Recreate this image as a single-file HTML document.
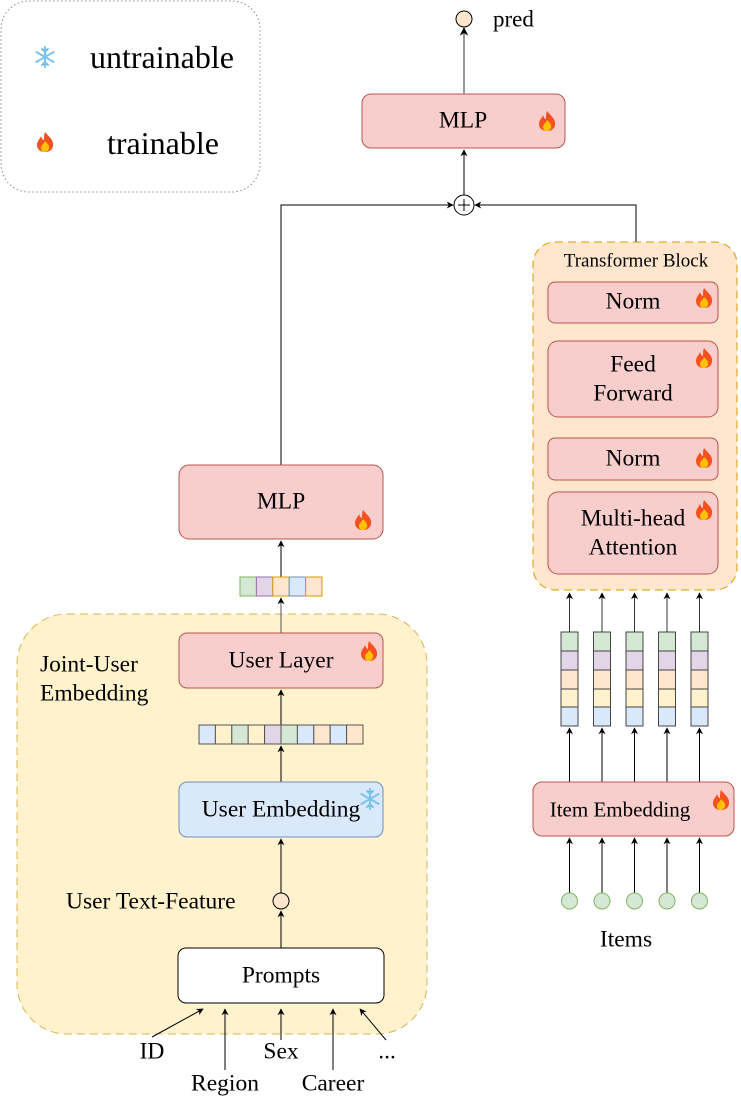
<!DOCTYPE html>
<html><head><meta charset="utf-8"><style>
html,body{margin:0;padding:0;background:#fff}
.w{position:relative;width:741px;height:1100px;overflow:hidden}
svg{position:absolute;left:0;top:0}
.t{position:absolute;font-family:"Liberation Serif","Times New Roman",serif;font-size:23.5px;color:#000;line-height:1;white-space:nowrap;transform:translate(-50%,-50%)}
.l{transform:translate(0,-50%)}
</style></head><body><div class="w">
<svg width="741" height="1100" viewBox="0 0 741 1100" xmlns="http://www.w3.org/2000/svg">
<defs>
<marker id="a" viewBox="0 0 10 10" refX="9" refY="5" markerWidth="7" markerHeight="7" orient="auto"><path d="M0,0 L10,5 L0,10 L3,5 z" fill="#000"/></marker>
<g id="fire"><path d="M0,-10 C4,-5 9,-2 8,4 C7,9 3,10 0,10 C-4,10 -8,8 -8,3 C-8,-1 -5,-3 -4,-6 C-3,-3 -2,-2 -1,-2 C-1,-5 -1,-8 0,-10 z" fill="#f4511e"/><path d="M0,-1 C3,2 5,4 4,7 C3,9 1,10 0,10 C-2,10 -4,9 -4,6 C-4,3 -1,2 0,-1 z" fill="#ffc107"/></g>
<g id="snow" stroke="#7cc4ef" stroke-width="2" stroke-linecap="round"><path d="M0,-10 V10 M-8.7,-5 L8.7,5 M-8.7,5 L8.7,-5 M-3,-8 L0,-5 L3,-8 M-3,8 L0,5 L3,8"/></g>
</defs>
<rect x="1" y="1" width="259" height="191" rx="28" fill="#fff" stroke="#888" stroke-dasharray="1.5,2.5"/>
<use href="#snow" x="45" y="57"/>
<use href="#fire" x="45" y="142"/>
<circle cx="464" cy="19" r="8" fill="#ffe6cc" stroke="#000"/>
<line x1="464" y1="94" x2="464" y2="28" stroke="#555" stroke-width="1.2" marker-end="url(#a)"/>
<rect x="362" y="94" width="203" height="54" rx="9" fill="#f8cecc" stroke="#b85450"/>
<use href="#fire" x="547" y="121"/>
<line x1="464" y1="195" x2="464" y2="150" stroke="#000" marker-end="url(#a)"/>
<circle cx="464" cy="205" r="10" fill="#fff" stroke="#000"/>
<path d="M458,205 H470 M464,199 V211" stroke="#000"/>
<polyline points="281,465 281,205 453,205" fill="none" stroke="#000" marker-end="url(#a)"/>
<polyline points="636,243 636,205 475,205" fill="none" stroke="#000" marker-end="url(#a)"/>
<rect x="533" y="242" width="204" height="348" rx="22" fill="#ffe6cc" stroke="#d79b00" stroke-dasharray="8,5"/>
<rect x="548" y="282" width="170" height="41" rx="7" fill="#f8cecc" stroke="#b85450"/>
<use href="#fire" x="704" y="298"/>
<rect x="548" y="341" width="170" height="76" rx="10" fill="#f8cecc" stroke="#b85450"/>
<use href="#fire" x="704" y="358"/>
<rect x="548" y="438" width="170" height="42" rx="7" fill="#f8cecc" stroke="#b85450"/>
<use href="#fire" x="704" y="458"/>
<rect x="548" y="492" width="170" height="82" rx="10" fill="#f8cecc" stroke="#b85450"/>
<use href="#fire" x="704" y="510"/>
<g id="bar">
<rect x="561" y="632" width="17" height="19" fill="#d5e8d4" stroke="#444"/>
<rect x="561" y="651" width="17" height="19" fill="#e1d5e7" stroke="#444"/>
<rect x="561" y="670" width="17" height="19" fill="#ffe6cc" stroke="#444"/>
<rect x="561" y="689" width="17" height="18" fill="#fff2cc" stroke="#444"/>
<rect x="561" y="707" width="17" height="19" fill="#dae8fc" stroke="#444"/>
<line x1="569.5" y1="632" x2="569.5" y2="593" stroke="#333" marker-end="url(#a)"/>
<line x1="569.5" y1="782" x2="569.5" y2="728" stroke="#000" marker-end="url(#a)"/>
<line x1="569.5" y1="893" x2="569.5" y2="838" stroke="#000" marker-end="url(#a)"/>
<circle cx="569.5" cy="901" r="8" fill="#d5e8d4" stroke="#82b366"/>
</g>
<use href="#bar" x="32.5"/><use href="#bar" x="65"/><use href="#bar" x="97.5"/><use href="#bar" x="130"/>
<rect x="533" y="782" width="201" height="54" rx="9" fill="#f8cecc" stroke="#b85450"/>
<use href="#fire" x="721" y="800"/>
<rect x="179" y="465" width="204" height="74" rx="10" fill="#f8cecc" stroke="#b85450"/>
<use href="#fire" x="363" y="520"/>
<line x1="281" y1="577" x2="281" y2="541" stroke="#000" marker-end="url(#a)"/>
<rect x="240" y="577" width="16.4" height="19" fill="#d5e8d4" stroke="#82b366"/>
<rect x="256.4" y="577" width="16.4" height="19" fill="#e1d5e7" stroke="#9673a6"/>
<rect x="272.8" y="577" width="16.4" height="19" fill="#ffe6cc" stroke="#d79b00"/>
<rect x="289.2" y="577" width="16.4" height="19" fill="#dae8fc" stroke="#6c8ebf"/>
<rect x="305.6" y="577" width="16.4" height="19" fill="#ffe6cc" stroke="#d79b00"/>
<rect x="17" y="614" width="410" height="420" rx="50" fill="#fff2cc" stroke="#d6b656" stroke-dasharray="8,5"/>
<line x1="281" y1="633" x2="281" y2="598" stroke="#555" marker-end="url(#a)"/>
<rect x="179" y="633" width="204" height="55" rx="8" fill="#f8cecc" stroke="#b85450"/>
<use href="#fire" x="369" y="651"/>
<line x1="281" y1="725" x2="281" y2="690" stroke="#000" marker-end="url(#a)"/>
<g stroke="#555">
<rect x="199" y="725" width="16.4" height="19" fill="#dae8fc"/>
<rect x="215.4" y="725" width="16.4" height="19" fill="#fff2cc"/>
<rect x="231.8" y="725" width="16.4" height="19" fill="#d5e8d4"/>
<rect x="248.2" y="725" width="16.4" height="19" fill="#fff2cc"/>
<rect x="264.6" y="725" width="16.4" height="19" fill="#e1d5e7"/>
<rect x="281" y="725" width="16.4" height="19" fill="#d5e8d4"/>
<rect x="297.4" y="725" width="16.4" height="19" fill="#dae8fc"/>
<rect x="313.8" y="725" width="16.4" height="19" fill="#ffe6cc"/>
<rect x="330.2" y="725" width="16.4" height="19" fill="#dae8fc"/>
<rect x="346.6" y="725" width="16.4" height="19" fill="#ffe6cc"/>
</g>
<line x1="281" y1="782" x2="281" y2="746" stroke="#000" marker-end="url(#a)"/>
<rect x="179" y="782" width="204" height="55" rx="8" fill="#dae8fc" stroke="#6c8ebf"/>
<use href="#snow" x="370" y="799"/>
<line x1="281" y1="893" x2="281" y2="839" stroke="#000" marker-end="url(#a)"/>
<circle cx="281" cy="901" r="8" fill="#ffe6cc" stroke="#000"/>
<line x1="281" y1="948" x2="281" y2="911" stroke="#000" marker-end="url(#a)"/>
<rect x="178" y="948" width="206" height="55" rx="8" fill="#fff" stroke="#000"/>
<g stroke="#000" marker-end="url(#a)">
<line x1="152" y1="1037" x2="203" y2="1009"/>
<line x1="225" y1="1070" x2="225" y2="1009"/>
<line x1="281" y1="1040" x2="281" y2="1009"/>
<line x1="333" y1="1070" x2="333" y2="1009"/>
<line x1="386" y1="1040" x2="360" y2="1009"/>
</g>
</svg>
<div class="t l" style="left:90px;top:57px;font-size:32px">untrainable</div>
<div class="t l" style="left:107px;top:143px;font-size:32px">trainable</div>
<div class="t l" style="left:493px;top:19px;font-size:23px">pred</div>
<div class="t" style="left:463px;top:121px">MLP</div>
<div class="t" style="left:636px;top:261px;font-size:19px">Transformer Block</div>
<div class="t" style="left:633px;top:302px">Norm</div>
<div class="t" style="left:633px;top:365px">Feed</div>
<div class="t" style="left:633px;top:394px">Forward</div>
<div class="t" style="left:633px;top:459px">Norm</div>
<div class="t" style="left:633px;top:519px">Multi-head</div>
<div class="t" style="left:633px;top:548px">Attention</div>
<div class="t" style="left:620px;top:810px;font-size:21px">Item Embedding</div>
<div class="t" style="left:626px;top:940px">Items</div>
<div class="t" style="left:281px;top:502px">MLP</div>
<div class="t" style="left:281px;top:661px">User Layer</div>
<div class="t l" style="left:40px;top:665px">Joint-User</div>
<div class="t l" style="left:40px;top:694px">Embedding</div>
<div class="t" style="left:281px;top:810px">User Embedding</div>
<div class="t l" style="left:66px;top:902px">User Text-Feature</div>
<div class="t" style="left:281px;top:976px">Prompts</div>
<div class="t" style="left:152px;top:1052px">ID</div>
<div class="t" style="left:225px;top:1084px">Region</div>
<div class="t" style="left:281px;top:1052px">Sex</div>
<div class="t" style="left:333px;top:1084px">Career</div>
<div class="t" style="left:387px;top:1052px">...</div>
</div></body></html>
